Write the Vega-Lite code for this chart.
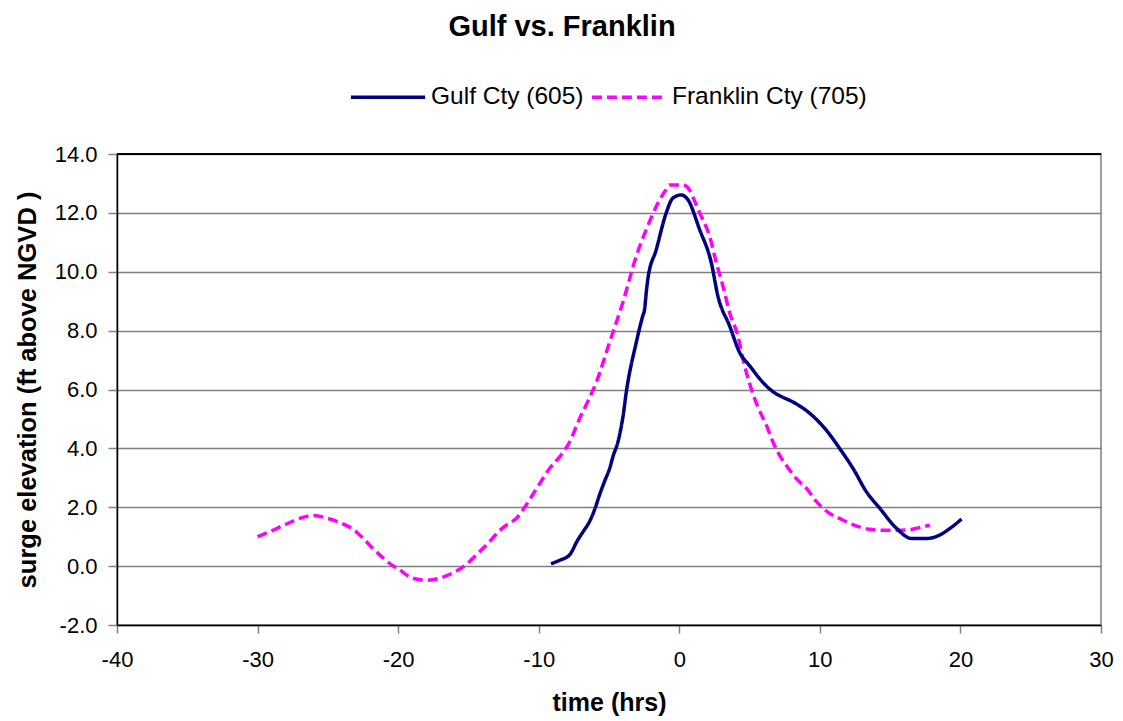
{
  "$schema": "https://vega.github.io/schema/vega-lite/v6.json",
  "autosize": {"type": "none"},
  "width": 984,
  "height": 471,
  "padding": {"left": 117, "top": 154, "right": 22, "bottom": 96},
  "background": "white",
  "config": {
    "font": "Liberation Sans",
    "view": {"stroke": "#808080", "strokeWidth": 1.5}
  },
  "title": {
    "text": "Gulf vs. Franklin",
    "font": "Liberation Sans",
    "fontSize": 29,
    "fontWeight": "bold",
    "color": "#000000",
    "anchor": "middle",
    "frame": "group",
    "baseline": "alphabetic",
    "offset": -7,
    "dx": -47
  },
  "data": {
    "values": [
      {"series": "Franklin Cty (705)", "t": -30.0, "v": 1.0},
      {"series": "Franklin Cty (705)", "t": -29.0, "v": 1.2},
      {"series": "Franklin Cty (705)", "t": -28.0, "v": 1.42},
      {"series": "Franklin Cty (705)", "t": -27.0, "v": 1.62},
      {"series": "Franklin Cty (705)", "t": -26.0, "v": 1.72},
      {"series": "Franklin Cty (705)", "t": -25.0, "v": 1.62},
      {"series": "Franklin Cty (705)", "t": -24.0, "v": 1.45},
      {"series": "Franklin Cty (705)", "t": -23.2, "v": 1.25},
      {"series": "Franklin Cty (705)", "t": -22.5, "v": 0.95},
      {"series": "Franklin Cty (705)", "t": -21.8, "v": 0.6},
      {"series": "Franklin Cty (705)", "t": -21.0, "v": 0.25},
      {"series": "Franklin Cty (705)", "t": -20.4, "v": 0.02},
      {"series": "Franklin Cty (705)", "t": -19.9, "v": -0.12},
      {"series": "Franklin Cty (705)", "t": -19.4, "v": -0.3},
      {"series": "Franklin Cty (705)", "t": -18.8, "v": -0.43},
      {"series": "Franklin Cty (705)", "t": -18.0, "v": -0.48},
      {"series": "Franklin Cty (705)", "t": -17.1, "v": -0.42},
      {"series": "Franklin Cty (705)", "t": -16.2, "v": -0.25},
      {"series": "Franklin Cty (705)", "t": -15.2, "v": 0.04},
      {"series": "Franklin Cty (705)", "t": -14.3, "v": 0.45},
      {"series": "Franklin Cty (705)", "t": -13.5, "v": 0.83},
      {"series": "Franklin Cty (705)", "t": -12.8, "v": 1.2},
      {"series": "Franklin Cty (705)", "t": -12.3, "v": 1.39},
      {"series": "Franklin Cty (705)", "t": -11.6, "v": 1.62},
      {"series": "Franklin Cty (705)", "t": -10.9, "v": 2.07},
      {"series": "Franklin Cty (705)", "t": -10.4, "v": 2.45},
      {"series": "Franklin Cty (705)", "t": -9.8, "v": 2.9},
      {"series": "Franklin Cty (705)", "t": -9.24, "v": 3.31},
      {"series": "Franklin Cty (705)", "t": -8.5, "v": 3.72},
      {"series": "Franklin Cty (705)", "t": -7.81, "v": 4.21},
      {"series": "Franklin Cty (705)", "t": -7.1, "v": 5.0},
      {"series": "Franklin Cty (705)", "t": -6.5, "v": 5.6},
      {"series": "Franklin Cty (705)", "t": -5.91, "v": 6.24},
      {"series": "Franklin Cty (705)", "t": -4.96, "v": 7.6},
      {"series": "Franklin Cty (705)", "t": -4.02, "v": 8.95},
      {"series": "Franklin Cty (705)", "t": -3.06, "v": 10.53},
      {"series": "Franklin Cty (705)", "t": -2.35, "v": 11.43},
      {"series": "Franklin Cty (705)", "t": -1.52, "v": 12.33},
      {"series": "Franklin Cty (705)", "t": -1.0, "v": 12.75},
      {"series": "Franklin Cty (705)", "t": -0.69, "v": 12.95},
      {"series": "Franklin Cty (705)", "t": 0.26, "v": 12.95},
      {"series": "Franklin Cty (705)", "t": 0.73, "v": 12.78},
      {"series": "Franklin Cty (705)", "t": 1.0, "v": 12.5},
      {"series": "Franklin Cty (705)", "t": 1.45, "v": 12.0},
      {"series": "Franklin Cty (705)", "t": 2.16, "v": 11.2},
      {"series": "Franklin Cty (705)", "t": 2.64, "v": 10.3},
      {"series": "Franklin Cty (705)", "t": 3.11, "v": 9.51},
      {"series": "Franklin Cty (705)", "t": 3.58, "v": 8.61},
      {"series": "Franklin Cty (705)", "t": 4.17, "v": 7.82},
      {"series": "Franklin Cty (705)", "t": 4.53, "v": 7.03},
      {"series": "Franklin Cty (705)", "t": 5.0, "v": 6.2},
      {"series": "Franklin Cty (705)", "t": 5.6, "v": 5.4},
      {"series": "Franklin Cty (705)", "t": 6.2, "v": 4.78},
      {"series": "Franklin Cty (705)", "t": 6.67, "v": 4.21},
      {"series": "Franklin Cty (705)", "t": 7.14, "v": 3.76},
      {"series": "Franklin Cty (705)", "t": 7.62, "v": 3.42},
      {"series": "Franklin Cty (705)", "t": 8.33, "v": 2.97},
      {"series": "Franklin Cty (705)", "t": 9.05, "v": 2.64},
      {"series": "Franklin Cty (705)", "t": 9.76, "v": 2.19},
      {"series": "Franklin Cty (705)", "t": 10.7, "v": 1.79},
      {"series": "Franklin Cty (705)", "t": 11.4, "v": 1.62},
      {"series": "Franklin Cty (705)", "t": 12.3, "v": 1.42},
      {"series": "Franklin Cty (705)", "t": 13.55, "v": 1.25},
      {"series": "Franklin Cty (705)", "t": 14.5, "v": 1.22},
      {"series": "Franklin Cty (705)", "t": 15.5, "v": 1.22},
      {"series": "Franklin Cty (705)", "t": 16.4, "v": 1.24},
      {"series": "Franklin Cty (705)", "t": 17.0, "v": 1.3},
      {"series": "Franklin Cty (705)", "t": 17.83, "v": 1.39},
      {"series": "Gulf Cty (605)", "t": -9.12, "v": 0.08},
      {"series": "Gulf Cty (605)", "t": -8.5, "v": 0.2},
      {"series": "Gulf Cty (605)", "t": -7.81, "v": 0.38},
      {"series": "Gulf Cty (605)", "t": -7.22, "v": 0.89},
      {"series": "Gulf Cty (605)", "t": -6.8, "v": 1.2},
      {"series": "Gulf Cty (605)", "t": -6.39, "v": 1.51},
      {"series": "Gulf Cty (605)", "t": -6.0, "v": 1.95},
      {"series": "Gulf Cty (605)", "t": -5.68, "v": 2.41},
      {"series": "Gulf Cty (605)", "t": -5.3, "v": 2.9},
      {"series": "Gulf Cty (605)", "t": -4.96, "v": 3.31},
      {"series": "Gulf Cty (605)", "t": -4.7, "v": 3.75},
      {"series": "Gulf Cty (605)", "t": -4.37, "v": 4.21},
      {"series": "Gulf Cty (605)", "t": -4.0, "v": 5.1},
      {"series": "Gulf Cty (605)", "t": -3.77, "v": 5.91},
      {"series": "Gulf Cty (605)", "t": -3.06, "v": 7.6},
      {"series": "Gulf Cty (605)", "t": -2.6, "v": 8.5},
      {"series": "Gulf Cty (605)", "t": -2.47, "v": 8.72},
      {"series": "Gulf Cty (605)", "t": -2.35, "v": 9.3},
      {"series": "Gulf Cty (605)", "t": -2.24, "v": 9.74},
      {"series": "Gulf Cty (605)", "t": -1.64, "v": 10.75},
      {"series": "Gulf Cty (605)", "t": -0.93, "v": 12.0},
      {"series": "Gulf Cty (605)", "t": -0.46, "v": 12.5},
      {"series": "Gulf Cty (605)", "t": 0.14, "v": 12.61},
      {"series": "Gulf Cty (605)", "t": 0.61, "v": 12.45},
      {"series": "Gulf Cty (605)", "t": 1.45, "v": 11.43},
      {"series": "Gulf Cty (605)", "t": 2.28, "v": 10.3},
      {"series": "Gulf Cty (605)", "t": 2.75, "v": 9.17},
      {"series": "Gulf Cty (605)", "t": 3.58, "v": 8.16},
      {"series": "Gulf Cty (605)", "t": 4.29, "v": 7.26},
      {"series": "Gulf Cty (605)", "t": 5.0, "v": 6.81},
      {"series": "Gulf Cty (605)", "t": 5.95, "v": 6.24},
      {"series": "Gulf Cty (605)", "t": 6.9, "v": 5.85},
      {"series": "Gulf Cty (605)", "t": 7.14, "v": 5.79},
      {"series": "Gulf Cty (605)", "t": 8.33, "v": 5.51},
      {"series": "Gulf Cty (605)", "t": 9.05, "v": 5.28},
      {"series": "Gulf Cty (605)", "t": 9.5, "v": 5.1},
      {"series": "Gulf Cty (605)", "t": 10.47, "v": 4.61},
      {"series": "Gulf Cty (605)", "t": 11.42, "v": 3.99},
      {"series": "Gulf Cty (605)", "t": 12.37, "v": 3.31},
      {"series": "Gulf Cty (605)", "t": 13.32, "v": 2.52},
      {"series": "Gulf Cty (605)", "t": 14.27, "v": 1.96},
      {"series": "Gulf Cty (605)", "t": 15.46, "v": 1.28},
      {"series": "Gulf Cty (605)", "t": 16.52, "v": 0.94},
      {"series": "Gulf Cty (605)", "t": 17.59, "v": 0.94},
      {"series": "Gulf Cty (605)", "t": 18.54, "v": 1.06},
      {"series": "Gulf Cty (605)", "t": 19.25, "v": 1.28},
      {"series": "Gulf Cty (605)", "t": 20.08, "v": 1.6}
    ]
  },
  "layer": [
    {
      "mark": {"type": "line", "strokeWidth": 3.5, "interpolate": "monotone", "clip": true},
      "encoding": {
        "x": {
          "field": "t",
          "type": "quantitative",
          "scale": {"domain": [-40, 30], "nice": false, "zero": false},
          "axis": {
            "title": "time (hrs)",
            "values": [-40, -30, -20, -10, 0, 10, 20, 30],
            "labelExpr": "(datum.value < 0 ? '-' : '') + format(abs(datum.value), 'd')",
            "grid": false,
            "domainColor": "#000000",
            "domainWidth": 1.5,
            "tickColor": "#808080",
            "tickWidth": 1.5,
            "tickSize": 8,
            "labelPadding": 16,
            "labelFont": "Liberation Sans",
            "labelFontSize": 22,
            "labelColor": "#000000",
            "labelFlush": false,
            "titleFont": "Liberation Sans",
            "titleFontSize": 25,
            "titleFontWeight": "bold",
            "titleColor": "#000000",
            "titlePadding": 20
          }
        },
        "y": {
          "field": "v",
          "type": "quantitative",
          "scale": {"domain": [-2, 14], "nice": false, "zero": false},
          "axis": {
            "title": "surge elevation (ft above NGVD )",
            "values": [-2, 0, 2, 4, 6, 8, 10, 12, 14],
            "labelExpr": "(datum.value < 0 ? '-' : '') + format(abs(datum.value), '.1f')",
            "grid": true,
            "gridColor": "#808080",
            "gridWidth": 1.5,
            "domainColor": "#000000",
            "domainWidth": 1.5,
            "tickColor": "#808080",
            "tickWidth": 1.5,
            "tickSize": 9,
            "labelPadding": 11,
            "labelFont": "Liberation Sans",
            "labelFontSize": 22,
            "labelColor": "#000000",
            "labelFlush": false,
            "titleFont": "Liberation Sans",
            "titleFontSize": 25.5,
            "titleFontWeight": "bold",
            "titleColor": "#000000",
            "titlePadding": 14
          }
        },
        "color": {
          "field": "series",
          "type": "nominal",
          "scale": {"domain": ["Gulf Cty (605)", "Franklin Cty (705)"], "range": ["#000080", "#FF00FF"]},
          "legend": {
            "title": null,
            "orient": "none",
            "direction": "horizontal",
            "legendX": 232,
            "legendY": -96,
            "symbolType": "stroke",
            "symbolSize": 5500,
            "symbolStrokeWidth": 3.5,
            "labelFont": "Liberation Sans",
            "labelFontSize": 24.5,
            "labelColor": "#000000",
            "labelOffset": 4,
            "columnPadding": 0,
            "labelLimit": 400
          }
        },
        "strokeDash": {
          "field": "series",
          "type": "nominal",
          "scale": {"domain": ["Gulf Cty (605)", "Franklin Cty (705)"], "range": [[1, 0], [10, 5]]},
          "legend": null
        }
      }
    },
    {
      "mark": {"type": "rule", "color": "#000000", "strokeWidth": 1.5},
      "encoding": {"y": {"datum": 14}}
    }
  ]
}
